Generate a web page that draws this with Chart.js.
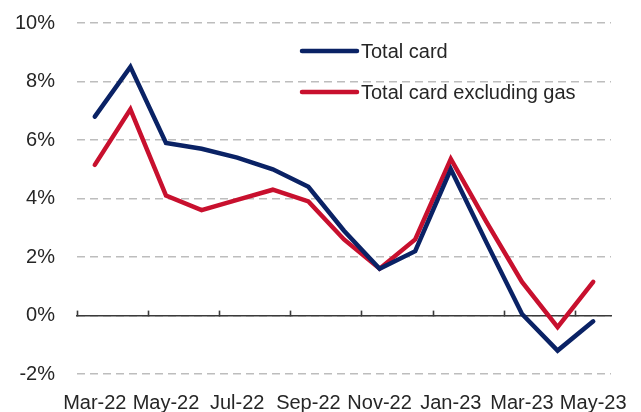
<!DOCTYPE html>
<html>
<head>
<meta charset="utf-8">
<script src="https://cdn.jsdelivr.net/npm/chart.js@4/dist/chart.umd.min.js"></script>
<style>
  html, body { margin: 0; padding: 0; background: #fff; }
  #wrap { width: 641px; height: 412px; }
</style>
</head>
<body>
<div id="wrap"><canvas id="c" width="641" height="412"></canvas></div>
<script>
const categories = ["Mar-22","Apr-22","May-22","Jun-22","Jul-22","Aug-22","Sep-22","Oct-22","Nov-22","Dec-22","Jan-23","Feb-23","Mar-23","Apr-23","May-23"];
const totalCard = [6.8, 8.5, 5.9, 5.7, 5.4, 5.0, 4.4, 2.9, 1.6, 2.2, 5.0, 2.5, 0.05, -1.2, -0.2];
const totalCardExGas = [5.15, 7.05, 4.1, 3.6, 3.95, 4.3, 3.9, 2.6, 1.6, 2.6, 5.35, 3.2, 1.15, -0.4, 1.15];
const seriesNames = ["Total card", "Total card excluding gas"];
const yTicks = [-2, 0, 2, 4, 6, 8, 10];

const NAVY = "#0a2265";
const RED = "#c8102e";
const TEXT = "#262626";
const FONT = "'Liberation Sans', Arial, sans-serif";

const insideLegend = {
  id: "insideLegend",
  afterDatasetsDraw(chart, args, opts) {
    const ctx = chart.ctx;
    ctx.save();
    chart.data.datasets.forEach((ds, i) => {
      const y = opts.y + i * opts.rowGap;
      ctx.beginPath();
      ctx.lineCap = "round";
      ctx.lineWidth = opts.lineWidth;
      ctx.strokeStyle = ds.borderColor;
      ctx.moveTo(opts.x, y);
      ctx.lineTo(opts.x + opts.lineLen, y);
      ctx.stroke();
      ctx.fillStyle = TEXT;
      ctx.font = "20px " + FONT;
      ctx.textBaseline = "middle";
      ctx.textAlign = "left";
      ctx.fillText(ds.label, opts.x + opts.lineLen + opts.gap, y + 1);
    });
    ctx.restore();
  }
};

new Chart(document.getElementById("c"), {
  type: "line",
  data: {
    labels: categories,
    datasets: [
      { label: seriesNames[0], data: totalCard, borderColor: NAVY, backgroundColor: NAVY },
      { label: seriesNames[1], data: totalCardExGas, borderColor: RED, backgroundColor: RED }
    ]
  },
  options: {
    responsive: false,
    animation: false,
    devicePixelRatio: 1,
    layout: { padding: { top: 23, right: 30, left: 0, bottom: 0 } },
    elements: {
      line: { borderWidth: 4.5, tension: 0, borderCapStyle: "round", borderJoinStyle: "miter", fill: false },
      point: { radius: 0, hoverRadius: 0 }
    },
    plugins: {
      legend: { display: false },
      tooltip: { enabled: false },
      insideLegend: { x: 302, y: 51, rowGap: 41, lineLen: 55, gap: 4, lineWidth: 4.5 }
    },
    scales: {
      x: {
        type: "category",
        offset: true,
        position: "bottom",
        grid: { display: false, offset: true },
        border: { display: false },
        ticks: {
          autoSkip: false,
          maxRotation: 0,
          padding: 9,
          color: TEXT,
          font: { family: FONT, size: 20 },
          callback: function(v, i) { return i % 2 === 0 ? this.getLabelForValue(v) : ""; }
        },
        afterFit: (s) => { s.height = 38; }
      },
      x2: {
        type: "category",
        offset: true,
        position: { y: 0 },
        grid: {
          display: true,
          offset: true,
          drawOnChartArea: false,
          drawTicks: true,
          tickLength: -6,
          tickWidth: 1.6,
          color: (c) => (c.index % 2 === 0 ? "#3a3a3a" : "rgba(0,0,0,0)"),
          tickColor: (c) => (c.index % 2 === 0 && c.index < categories.length ? "#3a3a3a" : "rgba(0,0,0,0)")
        },
        border: { display: true, color: "#3a3a3a", width: 1.6 },
        ticks: { display: false }
      },
      y: {
        min: yTicks[0],
        max: yTicks[yTicks.length - 1],
        afterBuildTicks: (s) => { s.ticks = yTicks.map(v => ({ value: v })); },
        grid: {
          color: "#bdbdbd",
          lineWidth: 1.6,
          drawTicks: true,
          tickLength: 22,
          tickColor: "rgba(0,0,0,0)"
        },
        border: { display: false, dash: [8, 5] },
        ticks: {
          padding: 0,
          color: TEXT,
          font: { family: FONT, size: 20 },
          callback: (v) => v + "%"
        },
        afterFit: (s) => { s.width = 77; }
      }
    }
  },
  plugins: [insideLegend]
});
</script>
</body>
</html>
